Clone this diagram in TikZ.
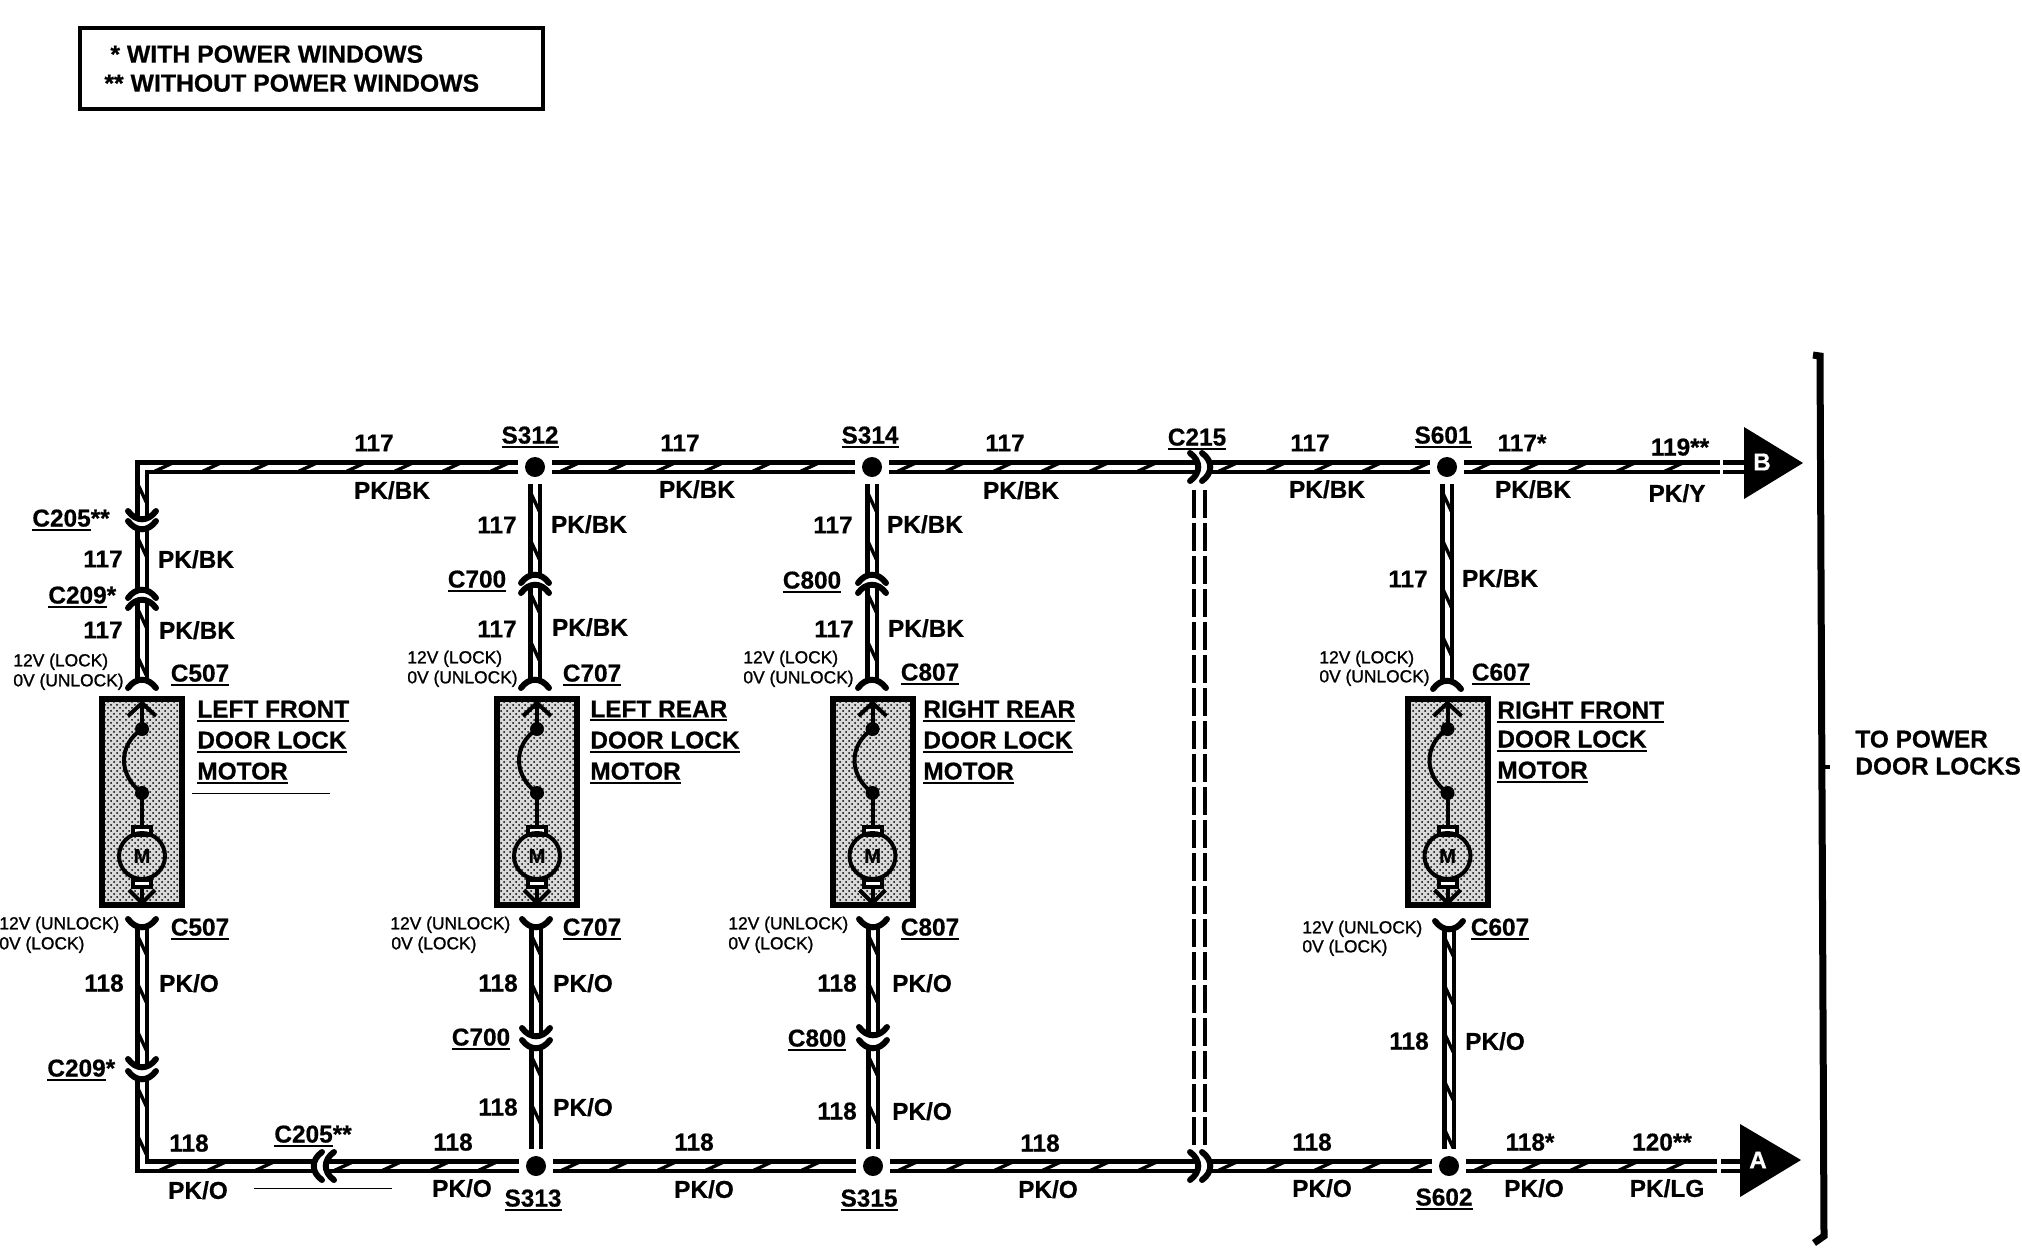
\documentclass[tikz,border=0pt]{standalone}
\usepackage{fontspec}
\setmainfont[BoldFeatures={FakeBold=0.6}]{Liberation Sans}
\newfontfamily\voltfamily[FakeBold=1.2]{Liberation Sans}
\usetikzlibrary{patterns}
\usetikzlibrary{decorations.markings}

\newcommand{\labfont}{\bfseries\fontsize{12.2}{14}\selectfont}
\newcommand{\legfont}{\bfseries\fontsize{12.4}{14}\selectfont}
\newcommand{\voltfont}{\voltfamily\fontsize{8.7}{10}\selectfont}
\newcommand{\ulab}[1]{\setbox0=\hbox{#1}\rlap{\rule[-2pt]{\wd0}{1pt}}\box0}

% one door lock motor, box centre at x=#1, named #2
\newcommand{\doormotor}[2]{
\node [motorbox] (#2box) at (#1,802) {};
\begin{scope}[shift={(#1,0)}]
\draw [mline] (-14,716) -- (0,703) -- (14,716);
\draw [mline] (0,703) -- (0,729);
\fill (0,729) circle (3.5pt);
\draw [mline] (0,729) .. controls (-24,745) and (-24,775) .. (0,793);
\fill (0,793) circle (3.5pt);
\draw [mline] (0,793) -- (0,826);
\draw [mline,fill=white] (-9,827) rectangle (9,835);
\draw [mline] (0,856) circle (11.5pt);
\draw [mline,fill=white] (-9,880) rectangle (9,887);
\draw [mline] (0,887) -- (0,903);
\draw [mline] (-13,890) -- (0,903) -- (13,890);
\end{scope}
\node [font=\bfseries\fontsize{10}{10}\selectfont,inner sep=0pt] (#2m) at (#1,856) {M};
}

\begin{document}
\begin{tikzpicture}[x=0.5pt,y=-0.5pt,
  dot/.style={circle,fill,inner sep=0pt,minimum size=10pt,outer sep=3.5pt},
  wire/.style={line width=2.25pt,double=white,double distance=2.5pt,
    postaction={decorate,decoration={markings,
      mark=between positions 9pt and -4pt step 24pt with {
        \fill (-5pt,-1.4pt) -- (-1pt,-1.4pt) -- (5pt,1.4pt) -- (1pt,1.4pt) -- cycle;}}}},
  stub/.style={line width=2.25pt,double=white,double distance=2.5pt},
  plug/.style={line width=3pt,line cap=round},
  mline/.style={line width=2pt},
  motorbox/.style={draw,line width=3pt,pattern=crosshatch dots,preaction={fill=black!15},minimum width=40pt,minimum height=103pt,inner sep=0pt},
  sep/.style={line width=2pt,dash pattern=on 14pt off 2.5pt},
  lab/.style={font=\labfont,inner sep=0pt,text depth=0pt},
  volt/.style={font=\voltfont,inner sep=0pt,text depth=0pt,anchor=west},
  capn/.pic={\draw [plug] (-14,8) .. controls (-6,-3) and (6,-3) .. (14,8);},
  caps/.pic={\draw [plug] (-14,-8) .. controls (-6,3) and (6,3) .. (14,-8);},
  cape/.pic={\draw [plug] (-8,-14) .. controls (3,-6) and (3,6) .. (-8,14);},
  capw/.pic={\draw [plug] (8,-14) .. controls (-3,-6) and (-3,6) .. (8,14);}]

\useasboundingbox (0,0) rectangle (2022,1248);

% legend
\draw [line width=2pt] (80,28) rectangle (543,109);
\node [lab,font=\legfont,anchor=west] (leg1) at (110,54) {* WITH POWER WINDOWS};
\node [lab,font=\legfont,anchor=west] (leg2) at (104,83) {** WITHOUT POWER WINDOWS};

% splices
\node [dot] (S312) at (535,467) {};
\node [dot] (S314) at (872,467) {};
\node [dot] (S601) at (1447,467) {};
\node [dot] (S313) at (536,1166) {};
\node [dot] (S315) at (873,1166) {};
\node [dot] (S602) at (1449,1166) {};

% wire ends
\coordinate (topcorner) at (142,467);
\coordinate (botcorner) at (142,1166);
\coordinate (c205ta) at (142,519);
\coordinate (c205tb) at (142,529);
\coordinate (c209ta) at (142,590);
\coordinate (c209tb) at (142,600);
\coordinate (c507t) at (142,680);
\coordinate (c507b) at (142,927);
\coordinate (c209ba) at (142,1067);
\coordinate (c209bb) at (142,1079);
\coordinate (c205ba) at (314,1166);
\coordinate (c205bb) at (326,1166);
\coordinate (c700ta) at (535,575);
\coordinate (c700tb) at (535,585);
\coordinate (c707t) at (535,680);
\coordinate (c707b) at (536,927);
\coordinate (c700ba) at (536,1036);
\coordinate (c700bb) at (536,1048);
\coordinate (c800ta) at (872,575);
\coordinate (c800tb) at (872,585);
\coordinate (c807t) at (872,680);
\coordinate (c807b) at (873,927);
\coordinate (c800ba) at (873,1035);
\coordinate (c800bb) at (873,1048);
\coordinate (c607t) at (1447,681);
\coordinate (c607b) at (1449,929);
\coordinate (c215ta) at (1198,467);
\coordinate (c215tb) at (1210,467);
\coordinate (c215ba) at (1198,1166);
\coordinate (c215bb) at (1210,1166);
\coordinate (tailB) at (1720,467);
\coordinate (stubB) at (1723,467);
\coordinate (tipB) at (1746,467);
\coordinate (tailA) at (1717,1166);
\coordinate (stubA) at (1721,1166);
\coordinate (tipA) at (1742,1166);

% wires
\draw [wire] (S312) -- (topcorner) -- (c205ta);
\draw [wire] (c205tb) -- (c209ta);
\draw [wire] (c209tb) -- (c507t);
\draw [wire] (c507b) -- (c209ba);
\draw [wire] (c209bb) -- (botcorner) -- (c205ba);
\draw [wire] (c205bb) -- (S313);
\draw [wire] (S312) -- (S314);
\draw [wire] (S314) -- (c215ta);
\draw [wire] (c215tb) -- (S601);
\draw [wire] (S601) -- (tailB);
\draw [stub] (stubB) -- (tipB);
\draw [wire] (S313) -- (S315);
\draw [wire] (S315) -- (c215ba);
\draw [wire] (c215bb) -- (S602);
\draw [wire] (S602) -- (tailA);
\draw [stub] (stubA) -- (tipA);
\draw [wire] (S312) -- (c700ta);
\draw [wire] (c700tb) -- (c707t);
\draw [wire] (c707b) -- (c700ba);
\draw [wire] (c700bb) -- (S313);
\draw [wire] (S314) -- (c800ta);
\draw [wire] (c800tb) -- (c807t);
\draw [wire] (c807b) -- (c800ba);
\draw [wire] (c800bb) -- (S315);
\draw [wire] (S601) -- (c607t);
\draw [wire] (c607b) -- (S602);

% connectors
\pic at (c205ta) {caps};
\pic at (c205tb) {caps};
\pic at (c209ta) {capn};
\pic at (c209tb) {capn};
\pic at (c507t) {capn};
\pic at (c507b) {caps};
\pic at (c209ba) {caps};
\pic at (c209bb) {caps};
\pic at (c205ba) {capw};
\pic at (c205bb) {capw};
\pic at (c700ta) {capn};
\pic at (c700tb) {capn};
\pic at (c707t) {capn};
\pic at (c707b) {caps};
\pic at (c700ba) {caps};
\pic at (c700bb) {caps};
\pic at (c800ta) {capn};
\pic at (c800tb) {capn};
\pic at (c807t) {capn};
\pic at (c807b) {caps};
\pic at (c800ba) {caps};
\pic at (c800bb) {caps};
\pic at (c607t) {capn};
\pic at (c607b) {caps};
\pic at (c215ta) {cape};
\pic at (c215tb) {cape};
\pic at (c215ba) {cape};
\pic at (c215bb) {cape};

% C215 dashed pair
\coordinate (sepa1) at (1194,490);
\coordinate (sepa2) at (1194,1150);
\coordinate (sepb1) at (1205,490);
\coordinate (sepb2) at (1205,1150);
\draw [sep] (sepa1) -- (sepa2);
\draw [sep] (sepb1) -- (sepb2);

% motors
\doormotor{142}{lf}
\doormotor{537}{lr}
\doormotor{872.5}{rr}
\doormotor{1447.5}{rf}

% arrows
\fill (1744,427) -- (1803,463) -- (1744,499) -- cycle;
\fill (1740,1124) -- (1801,1160) -- (1740,1197) -- cycle;
\node [lab,text=white] (arrB) at (1762,462) {B};
\node [lab,text=white] (arrA) at (1758,1160) {A};

% bracket
\draw [line width=3.5pt] (1813,355) -- (1820,356) -- (1824,1236) -- (1814,1243);
\draw [line width=2pt] (1822,767) -- (1830,767);
\node [lab,anchor=west] (topow) at (1855,739) {TO POWER};
\node [lab,anchor=west] (todoor) at (1855,766) {DOOR LOCKS};

% stray rules
\draw [line width=0.5pt] (192,793) -- (330,793);
\draw [line width=0.5pt] (254,1188) -- (392,1188);

% top run labels
\node [lab] (t1) at (374,443) {117};
\node [lab] (t2) at (392,490) {PK/BK};
\node [lab] (t3) at (530,435) {\ulab{S312}};
\node [lab] (t4) at (680,443) {117};
\node [lab] (t5) at (697,489) {PK/BK};
\node [lab] (t6) at (870,435) {\ulab{S314}};
\node [lab] (t7) at (1005,443) {117};
\node [lab] (t8) at (1021,490) {PK/BK};
\node [lab] (t9) at (1197,437) {\ulab{C215}};
\node [lab] (t10) at (1310,443) {117};
\node [lab] (t11) at (1327,489) {PK/BK};
\node [lab] (t12) at (1443,435) {\ulab{S601}};
\node [lab] (t13) at (1522,443) {117*};
\node [lab] (t14) at (1533,489) {PK/BK};
\node [lab] (t15) at (1680,447) {119**};
\node [lab] (t16) at (1677,493) {PK/Y};

% bottom run labels
\node [lab] (b1) at (189,1143) {118};
\node [lab] (b2) at (198,1190) {PK/O};
\node [lab,anchor=west] (b3) at (274,1134) {\ulab{C205}**};
\node [lab] (b4) at (453,1142) {118};
\node [lab] (b5) at (462,1188) {PK/O};
\node [lab] (b6) at (533,1198) {\ulab{S313}};
\node [lab] (b7) at (694,1142) {118};
\node [lab] (b8) at (704,1189) {PK/O};
\node [lab] (b9) at (869,1198) {\ulab{S315}};
\node [lab] (b10) at (1040,1143) {118};
\node [lab] (b11) at (1048,1189) {PK/O};
\node [lab] (b12) at (1312,1142) {118};
\node [lab] (b13) at (1322,1188) {PK/O};
\node [lab] (b14) at (1444,1197) {\ulab{S602}};
\node [lab] (b15) at (1530,1142) {118*};
\node [lab] (b16) at (1534,1188) {PK/O};
\node [lab] (b17) at (1662,1142) {120**};
\node [lab] (b18) at (1667,1188) {PK/LG};

% left front column
\node [lab,anchor=west] (a1) at (32,518) {\ulab{C205}**};
\node [lab] (a2) at (103,559) {117};
\node [lab] (a3) at (196,559) {PK/BK};
\node [lab,anchor=west] (a4) at (48,595) {\ulab{C209}*};
\node [lab] (a5) at (103,630) {117};
\node [lab] (a6) at (197,630) {PK/BK};
\node [volt] (a7) at (13,660) {12V (LOCK)};
\node [volt] (a8) at (13,680) {0V (UNLOCK)};
\node [lab] (a9) at (200,673) {\ulab{C507}};
\node [lab,anchor=west] (a10) at (197,709) {\ulab{LEFT FRONT}};
\node [lab,anchor=west] (a11) at (197,740) {\ulab{DOOR LOCK}};
\node [lab,anchor=west] (a12) at (197,771) {\ulab{MOTOR}};
\node [volt] (a13) at (-1,923) {12V (UNLOCK)};
\node [volt] (a14) at (-1,943) {0V (LOCK)};
\node [lab] (a15) at (200,927) {\ulab{C507}};
\node [lab] (a16) at (104,983) {118};
\node [lab] (a17) at (189,983) {PK/O};
\node [lab,anchor=west] (a18) at (47,1068) {\ulab{C209}*};

% left rear column
\node [lab] (c1) at (497,525) {117};
\node [lab] (c2) at (589,524) {PK/BK};
\node [lab] (c3) at (477,579) {\ulab{C700}};
\node [lab] (c4) at (497,629) {117};
\node [lab] (c5) at (590,627) {PK/BK};
\node [volt] (c6) at (407,657) {12V (LOCK)};
\node [volt] (c7) at (407,677) {0V (UNLOCK)};
\node [lab] (c8) at (592,673) {\ulab{C707}};
\node [lab,anchor=west] (c9) at (590,709) {\ulab{LEFT REAR}};
\node [lab,anchor=west] (c10) at (590,740) {\ulab{DOOR LOCK}};
\node [lab,anchor=west] (c11) at (590,771) {\ulab{MOTOR}};
\node [volt] (c12) at (390,923) {12V (UNLOCK)};
\node [volt] (c13) at (391,943) {0V (LOCK)};
\node [lab] (c14) at (592,927) {\ulab{C707}};
\node [lab] (c15) at (498,983) {118};
\node [lab] (c16) at (583,983) {PK/O};
\node [lab] (c17) at (481,1037) {\ulab{C700}};
\node [lab] (c18) at (498,1107) {118};
\node [lab] (c19) at (583,1107) {PK/O};

% right rear column
\node [lab] (d1) at (833,525) {117};
\node [lab] (d2) at (925,524) {PK/BK};
\node [lab] (d3) at (812,580) {\ulab{C800}};
\node [lab] (d4) at (834,629) {117};
\node [lab] (d5) at (926,628) {PK/BK};
\node [volt] (d6) at (743,657) {12V (LOCK)};
\node [volt] (d7) at (743,677) {0V (UNLOCK)};
\node [lab] (d8) at (930,672) {\ulab{C807}};
\node [lab,anchor=west] (d9) at (923,709) {\ulab{RIGHT REAR}};
\node [lab,anchor=west] (d10) at (923,740) {\ulab{DOOR LOCK}};
\node [lab,anchor=west] (d11) at (923,771) {\ulab{MOTOR}};
\node [volt] (d12) at (728,923) {12V (UNLOCK)};
\node [volt] (d13) at (728,943) {0V (LOCK)};
\node [lab] (d14) at (930,927) {\ulab{C807}};
\node [lab] (d15) at (837,983) {118};
\node [lab] (d16) at (922,983) {PK/O};
\node [lab] (d17) at (817,1038) {\ulab{C800}};
\node [lab] (d18) at (837,1111) {118};
\node [lab] (d19) at (922,1111) {PK/O};

% right front column
\node [lab] (e1) at (1408,579) {117};
\node [lab] (e2) at (1500,578) {PK/BK};
\node [volt] (e3) at (1319,657) {12V (LOCK)};
\node [volt] (e4) at (1319,676) {0V (UNLOCK)};
\node [lab] (e5) at (1501,672) {\ulab{C607}};
\node [lab,anchor=west] (e6) at (1497,710) {\ulab{RIGHT FRONT}};
\node [lab,anchor=west] (e7) at (1497,739) {\ulab{DOOR LOCK}};
\node [lab,anchor=west] (e8) at (1497,770) {\ulab{MOTOR}};
\node [volt] (e9) at (1302,927) {12V (UNLOCK)};
\node [volt] (e10) at (1302,946) {0V (LOCK)};
\node [lab] (e11) at (1500,927) {\ulab{C607}};
\node [lab] (e12) at (1409,1041) {118};
\node [lab] (e13) at (1495,1041) {PK/O};

\end{tikzpicture}
\end{document}
